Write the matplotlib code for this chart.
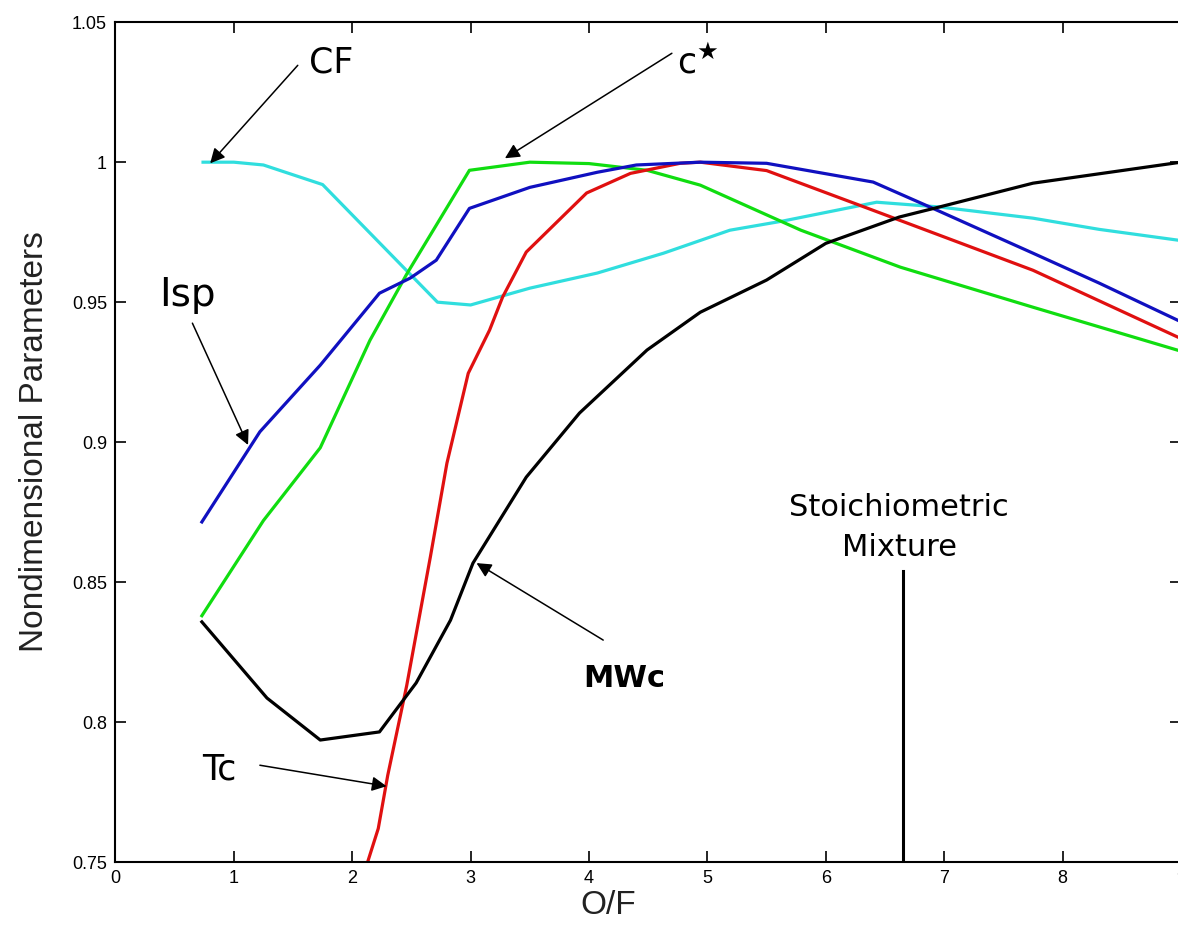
import numpy as np
import matplotlib
matplotlib.use("Agg")
import matplotlib.pyplot as plt
from matplotlib.ticker import FuncFormatter

plt.rcParams['font.family'] = ['Liberation Sans', 'DejaVu Sans']

# CF (cyan)
cf_x = [0.74, 1.0, 1.25, 1.75, 2.72, 3.0, 3.5, 4.07, 4.63, 5.19, 5.64, 6.43, 6.96, 7.75, 8.31, 9.0]
cf_y = [1.0, 1.0, 0.999, 0.992, 0.950, 0.949, 0.955, 0.9604, 0.9675, 0.9757, 0.979, 0.9857, 0.984, 0.980, 0.976, 0.972]

# Isp (blue)
isp_x = [0.73, 1.22, 1.73, 2.23, 2.49, 2.71, 2.99, 3.5, 4.07, 4.40, 4.94, 5.5, 6.40, 6.90, 7.75, 8.31, 9.0]
isp_y = [0.8715, 0.9037, 0.9275, 0.9532, 0.9586, 0.965, 0.9835, 0.991, 0.9964, 0.999, 1.0, 0.9996, 0.9929, 0.9836, 0.9675, 0.9568, 0.943]

# c* (green)
cstar_x = [0.73, 1.25, 1.73, 2.15, 2.46, 2.99, 3.5, 4.0, 4.49, 4.94, 5.79, 6.63, 7.75, 9.0]
cstar_y = [0.838, 0.872, 0.898, 0.9364, 0.960, 0.9971, 1.0, 0.9995, 0.9971, 0.9918, 0.9757, 0.9625, 0.9482, 0.9325]

# Tc (red)
tc_x = [2.13, 2.22, 2.30, 2.46, 2.66, 2.80, 2.98, 3.16, 3.27, 3.47, 3.98, 4.35, 4.77, 4.94, 5.5, 6.35, 7.75, 9.0]
tc_y = [0.75, 0.762, 0.781, 0.813, 0.859, 0.8925, 0.9246, 0.94, 0.9518, 0.9679, 0.989, 0.996, 0.9996, 1.0, 0.997, 0.9836, 0.9614, 0.937]

# MWc (black)
mw_x = [0.73, 1.28, 1.73, 2.23, 2.54, 2.83, 3.02, 3.47, 3.92, 4.49, 4.94, 5.5, 6.0, 6.62, 6.96, 7.75, 9.0]
mw_y = [0.8358, 0.8086, 0.7936, 0.7965, 0.814, 0.8364, 0.8568, 0.8875, 0.9104, 0.9329, 0.9464, 0.9579, 0.971, 0.9804, 0.984, 0.9925, 1.0]

stoich_of = 6.65
stoich_top = 0.854

fig = plt.figure(figsize=(11.78, 9.25), dpi=100)
# axes run slightly past the right edge, like the original screenshot
ax = fig.add_axes([0.098, 0.068, 0.9045, 0.908])

lw = 2.3
ax.plot(cf_x, cf_y, color='#30dede', lw=lw)
ax.plot(cstar_x, cstar_y, color='#10dd10', lw=lw)
ax.plot(tc_x, tc_y, color='#e01010', lw=lw)
ax.plot(isp_x, isp_y, color='#1010c0', lw=lw)
ax.plot(mw_x, mw_y, color='black', lw=lw)

ax.plot([stoich_of, stoich_of], [0.75, stoich_top], color='black', lw=2.2)

ax.set_xlim(0, 9)
ax.set_ylim(0.75, 1.05)
ax.set_xticks(range(10))
ax.set_yticks([0.75, 0.8, 0.85, 0.9, 0.95, 1.0, 1.05])
ax.yaxis.set_major_formatter(FuncFormatter(lambda v, p: '%g' % v))
ax.tick_params(direction='in', length=8, width=1.2, top=True, right=True,
               labelsize=13, pad=6)
for s in ax.spines.values():
    s.set_linewidth(1.5)

# axis labels (matlab-like placement)
fig.text(35 / 1178, 1 - 442 / 925, 'Nondimensional Parameters', rotation=90,
         ha='center', va='center', fontsize=24, color='#222222')
fig.text(608 / 1178, 1 - 906 / 925, 'O/F', ha='center', va='center',
         fontsize=24, color='#222222')

arrow = dict(arrowstyle='-|>', lw=1.1, color='black', mutation_scale=22,
             shrinkA=0, shrinkB=0)
tfont = dict(fontsize=25, family=['DejaVu Sans'], ha='center', va='center')

ax.annotate('', xy=(0.80, 0.9996), xytext=(1.54, 1.0346), arrowprops=arrow)
ax.text(1.82, 1.0357, 'CF', **tfont)

ax.annotate('', xy=(3.29, 1.0014), xytext=(4.70, 1.0389), arrowprops=arrow)
ax.text(4.92, 1.0355, r'c$^{\bigstar}$', **tfont)

ax.annotate('', xy=(1.12, 0.899), xytext=(0.65, 0.9425), arrowprops=arrow)
ax.text(0.61, 0.9525, 'Isp', fontsize=28, family=['DejaVu Sans'], ha='center', va='center')

ax.annotate('', xy=(2.29, 0.7771), xytext=(1.22, 0.7846), arrowprops=arrow)
ax.text(0.88, 0.7829, 'Tc', **tfont)

ax.annotate('', xy=(3.05, 0.8568), xytext=(4.12, 0.8293), arrowprops=arrow)
ax.text(4.30, 0.8155, 'MWc', fontsize=22, fontweight='bold',
        family=['DejaVu Sans'], ha='center', va='center')

ax.text(6.62, 0.8695, 'Stoichiometric\nMixture', fontsize=22,
        family=['DejaVu Sans'], ha='center', va='center', linespacing=1.45)

fig.savefig('out.png', dpi=100)
